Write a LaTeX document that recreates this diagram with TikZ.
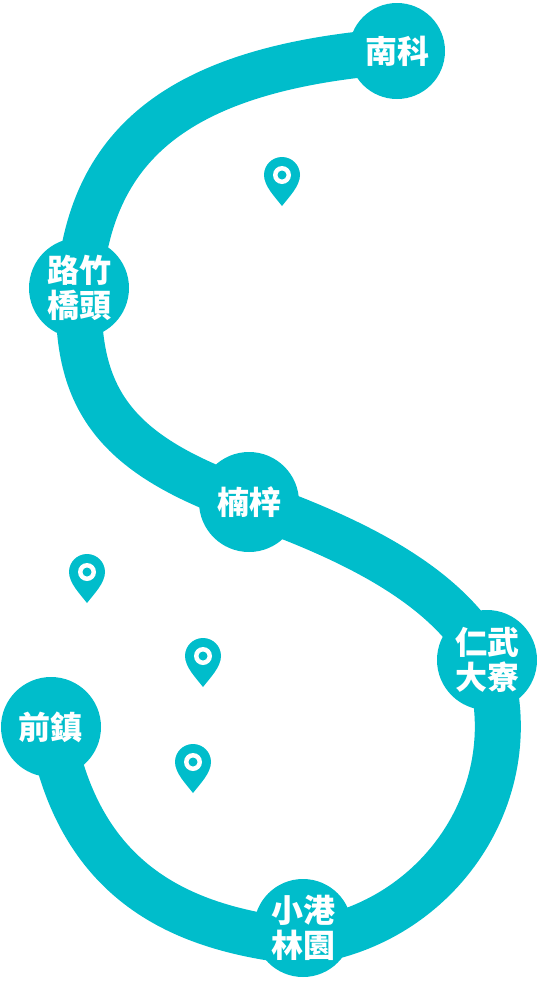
\documentclass[tikz,border=0pt]{standalone}
\usepackage{fontspec}
\setmainfont{Noto Sans CJK TC}
\usepackage{xcolor}
\usetikzlibrary{backgrounds}
\definecolor{track}{HTML}{00BDCB}

\begin{document}
\begin{tikzpicture}[
      x=1pt, y=-1pt,
      stop/.style={circle, fill=track, text=white, align=center, inner sep=0pt,
                   minimum size=100pt, font=\fontsize{32}{35}\selectfont\bfseries},
      link/.style={draw=track, line width=46pt},
      place/.style={text=white, align=center, inner sep=0pt,
                    font=\fontsize{20}{25}\selectfont\bfseries},
      mappin/.pic={
        \fill[track] (-18,0) arc[start angle=180, end angle=360, radius=18]
          .. controls (18,11) and (7,22) .. (0,31)
          .. controls (-7,22) and (-18,11) .. cycle;
        \fill[white] (0,0) circle[radius=9];
        \fill[track] (0,0) circle[radius=4.5];
      }]
    \useasboundingbox (0,0) rectangle (537,991);
    \node[stop, minimum size=96pt] (nanke) at (397,51) {南科};
    \node[stop] (luzhu) at (79,288) {路竹\\橋頭};
    \node[stop] (nanzi) at (249,502) {楠梓};
    \node[stop] (renwu) at (487,660) {仁武\\大寮};
    \node[stop, minimum size=98pt] (xiaogang) at (303,928) {小港\\林園};
    \node[stop] (qianzhen) at (51,727) {前鎮};
    \begin{pgfonlayer}{background}
      \draw[link] (nanke.center) .. controls (170,68) and (90,150) .. (luzhu.center);
      \draw[link] (luzhu.center) .. controls (75,400) and (115,455) .. (nanzi.center);
      \draw[link] (nanzi.center) .. controls (340,535) and (445,580) .. (renwu.center);
      \draw[link] (renwu.center) .. controls (530,790) and (440,925) .. ([yshift=-14pt]xiaogang.center);
      \draw[link] ([yshift=-14pt]xiaogang.center) .. controls (190,930) and (80,890) .. (qianzhen.center);
    \end{pgfonlayer}
    \pic at (282,175) {mappin};
    \pic at (87,572) {mappin};
    \pic at (203,656) {mappin};
    \pic at (193,762) {mappin};
    \node[place] (shalun) at (282,238) {沙崙綠能科學城\\沙崙 LAB};
    \node[place] (dakuo) at (87,636) {DAKUO\\數創中心};
    \node[place] (koin) at (203,708) {KO-IN 智高點};
    \node[place] (yawan) at (193,827) {亞灣新創園\\\&大港倉區};
  \end{tikzpicture}
\end{document}
